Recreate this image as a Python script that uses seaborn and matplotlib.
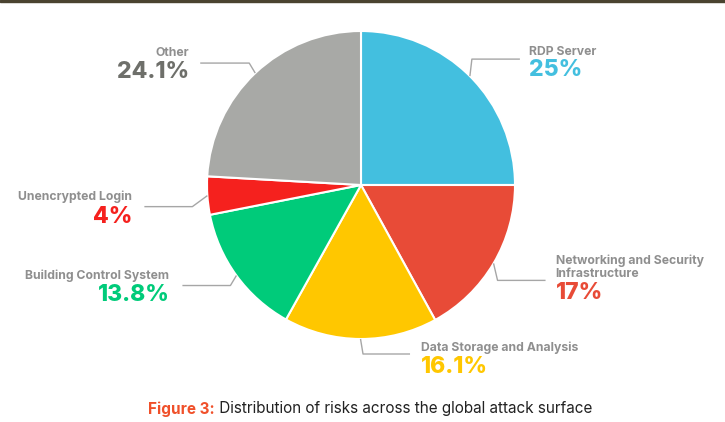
import numpy as np
import matplotlib
matplotlib.use("Agg")
import matplotlib.pyplot as plt
import seaborn as sns

# Risk categories and their share of the attack surface (%)
categories = ["RDP Server", "Networking and Security\nInfrastructure",
              "Data Storage and Analysis", "Building Control System",
              "Unencrypted Login", "Other"]
shares = [25.0, 17.0, 16.1, 13.8, 4.0, 24.1]
share_labels = ["25%", "17%", "16.1%", "13.8%", "4%", "24.1%"]
colors = ["#43BFDF", "#E84B37", "#FFC700", "#00CB7A", "#F5211E", "#A8A9A6"]
pct_colors = ["#43BFDF", "#E84B37", "#FFC700", "#00CB7A", "#F5211E", "#6E6F6A"]

caption_head = "Figure 3:"
caption_body = " Distribution of risks across the global attack surface"

sns.set_theme(style="white")
plt.rcParams["font.family"] = ["Inter", "DejaVu Sans"]

W, H = 725, 422
CX, CY, R = 361, 185, 154          # pie centre and radius in pixels

fig = plt.figure(figsize=(W / 100, H / 100), dpi=100)
ax = fig.add_axes([0, 0, 1, 1])

def px(dx=0, dy=0):
    """pixel offset -> data units (y grows downward in pixels)"""
    return dx / R, -dy / R

wedges, _ = ax.pie(shares, colors=colors, startangle=90, counterclock=False,
                   radius=1.0, center=(0, 0), frame=True,
                   wedgeprops=dict(edgecolor="white", linewidth=1.5))
ax.set_xlim(-CX / R, (W - CX) / R)
ax.set_ylim(-(H - CY) / R, CY / R)
ax.axis("off")

# Leader layout: elbow offset from the wedge edge (px), horizontal run (px),
# and label / percentage vertical offsets relative to the leader (px)
elbow = [(2, -17), (4, 17), (2.5, 15), (-6, 10), (-15, 11), (-6, -10)]
run = [48, 48, 47, -48, -48, -49]
name_dy = [-7, -13, -6, -10, -10, -10]
pct_dy = [11, 13, 13, 9, 10, 9]
gap = [9, 10, 11, 13, 12, 11]

for w, name, pct, pc, (ex, ey), r, nd, pd, g in zip(
        wedges, categories, share_labels, pct_colors, elbow, run, name_dy, pct_dy, gap):
    mid = np.deg2rad((w.theta1 + w.theta2) / 2)
    x0, y0 = np.cos(mid), np.sin(mid)
    ox, oy = px(ex, ey)
    x1, y1 = x0 + ox, y0 + oy
    x2 = x1 + r / R
    ax.plot([x0, x1, x2], [y0, y1, y1], color="#A6A6A6", lw=1.0,
            solid_capstyle="butt", zorder=1)
    side = 1 if r > 0 else -1
    tx = x2 + side * g / R
    ha = "left" if side > 0 else "right"
    ax.text(tx, y1 + px(0, nd)[1], name, ha=ha, va="center",
            fontsize=8.8, fontweight="bold", color="#8F8F8F", linespacing=1.08)
    ax.text(tx, y1 + px(0, pd)[1], pct, ha=ha, va="center",
            fontsize=16.5, fontweight="heavy", color=pc)

# Caption
t1 = fig.text(0.0, 0.0, caption_head, fontsize=11, fontweight="bold",
              color="#F0502A", va="center")
t2 = fig.text(0.0, 0.0, caption_body, fontsize=11, color="#222222", va="center")
fig.canvas.draw()
r = fig.canvas.get_renderer()
b1 = t1.get_window_extent(r)
b2 = t2.get_window_extent(r)
total = b1.width + b2.width
x_start = 370 - total / 2
yc = 1 - 409 / H
t1.set_position((x_start / W, yc))
t2.set_position(((x_start + b1.width) / W, yc))

# thin decorative band along the top edge
fig.patches.append(plt.Rectangle((0, 1 - 2 / H), 1, 2 / H, transform=fig.transFigure,
                                 color="#4A4330", zorder=10))

fig.savefig("out.png", dpi=100)
